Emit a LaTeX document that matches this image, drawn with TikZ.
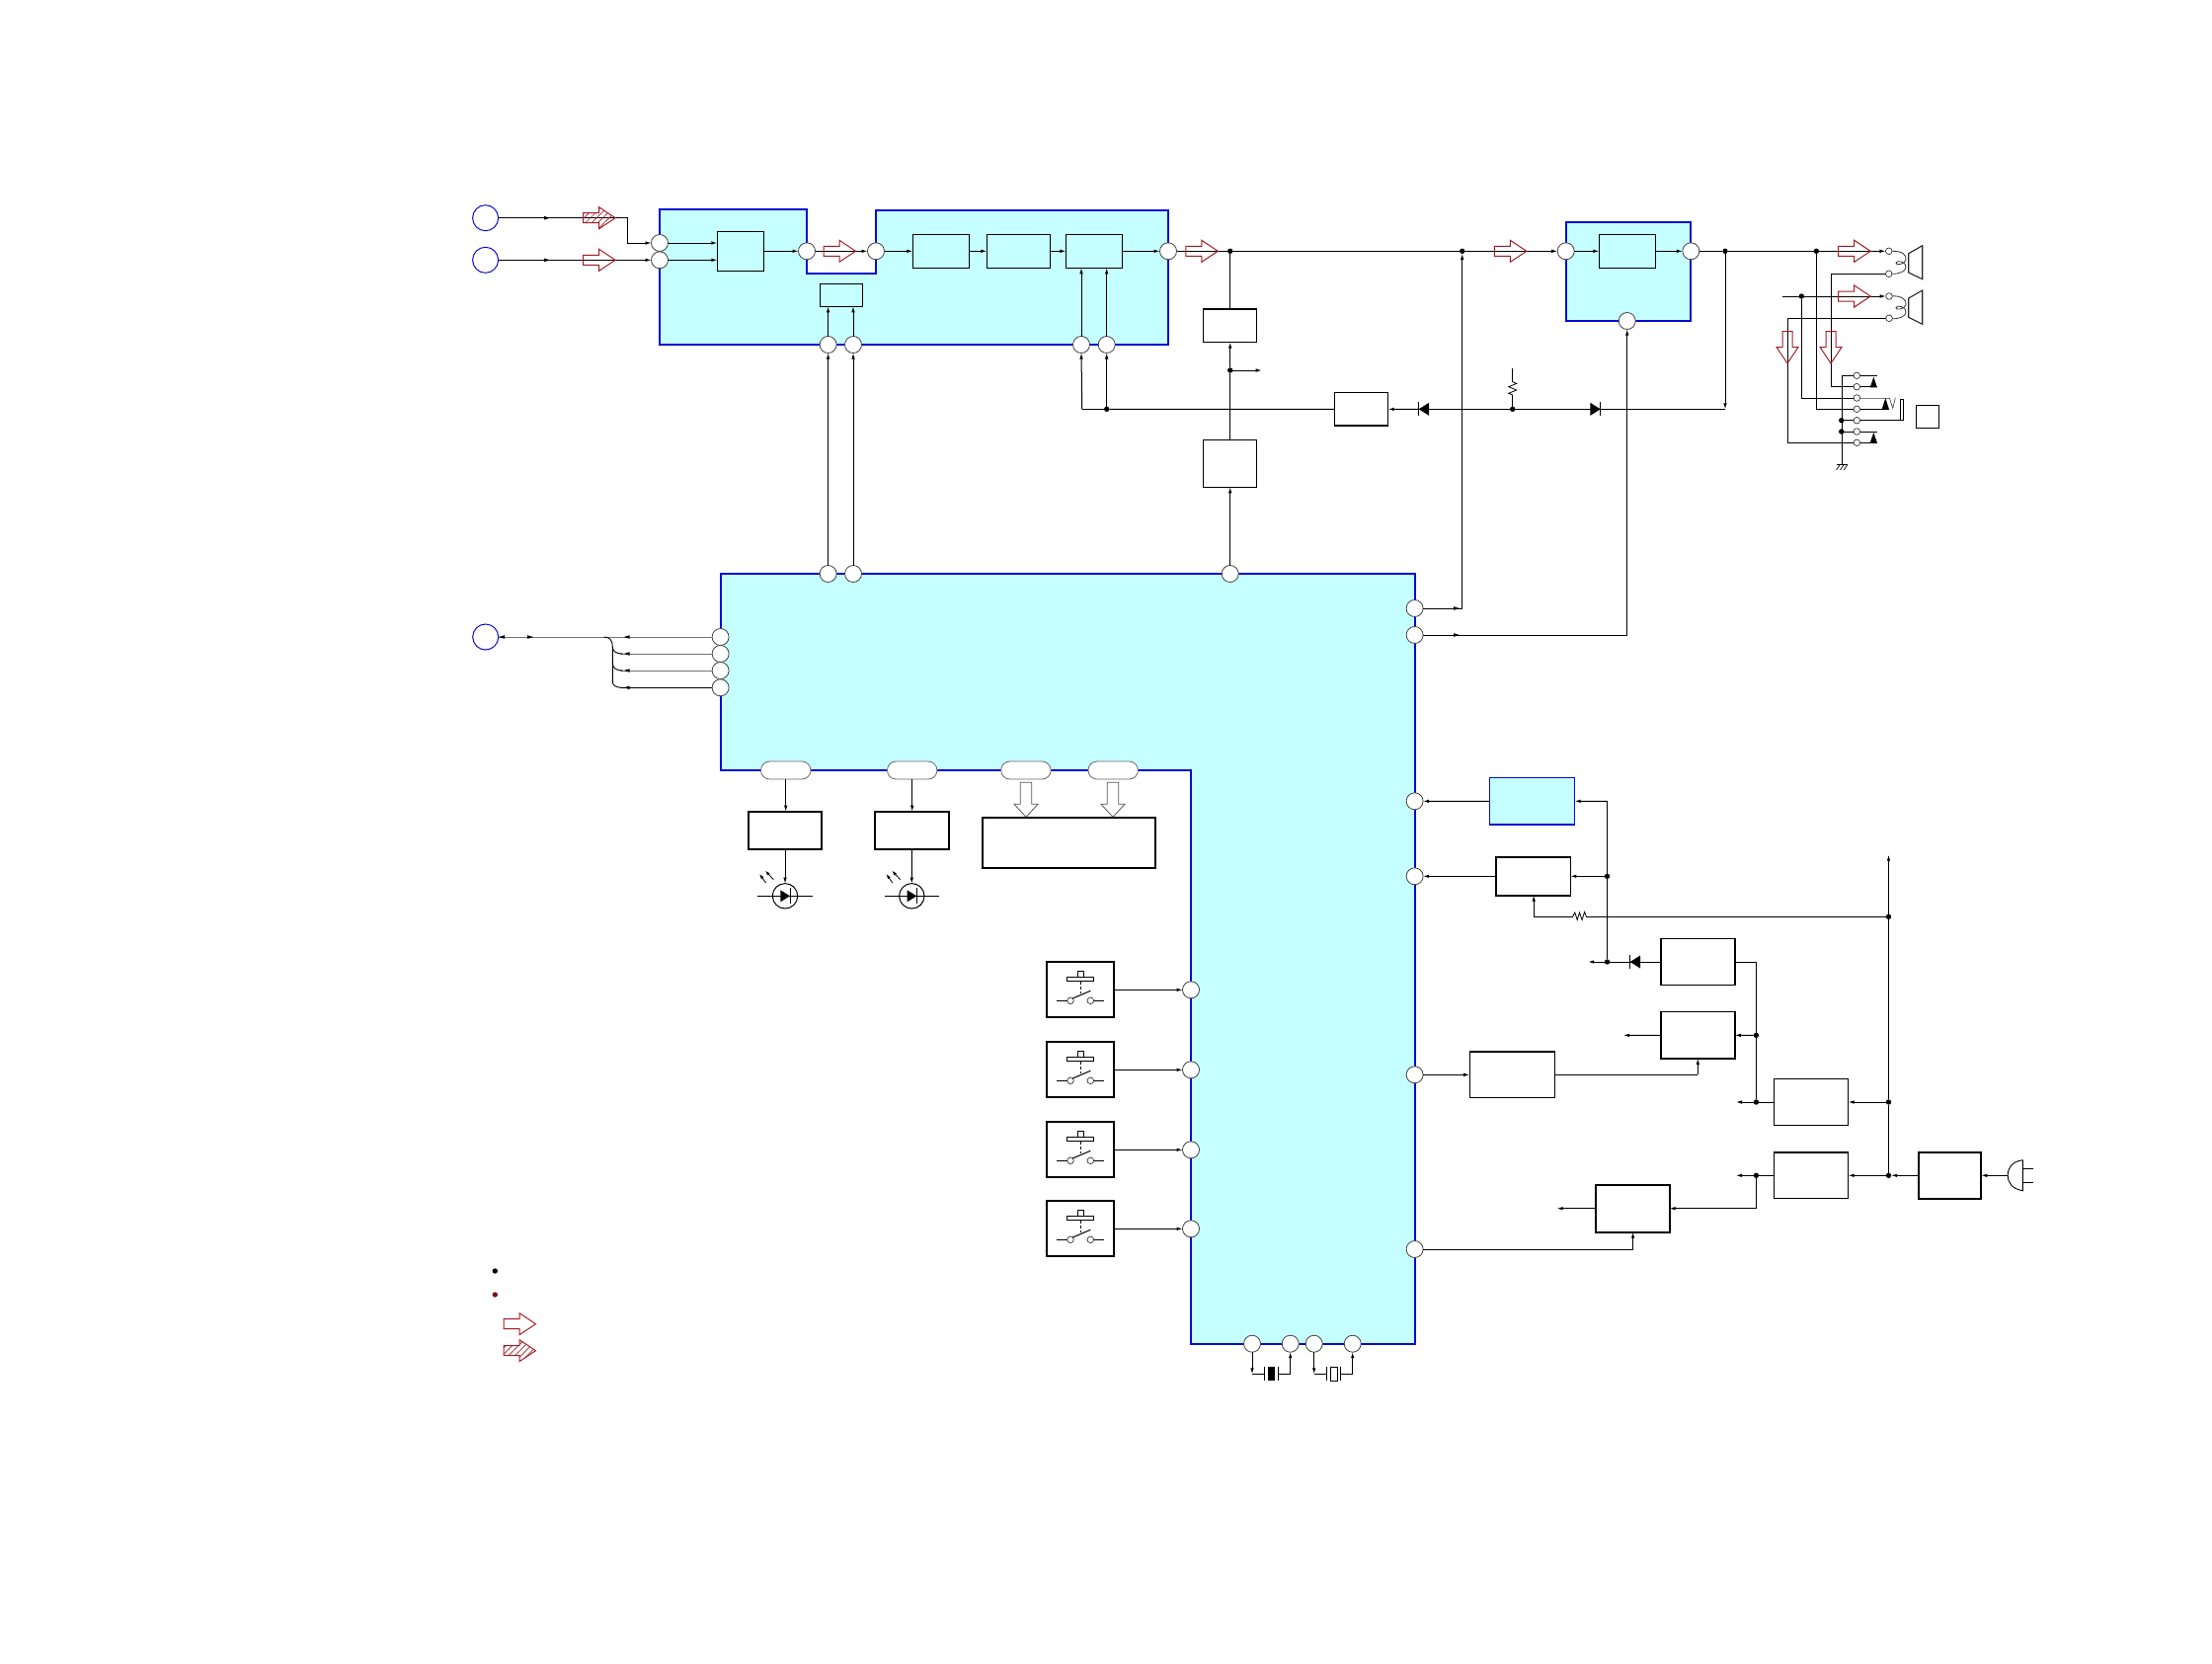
\documentclass[tikz,border=0pt]{standalone}
\usetikzlibrary{arrows.meta,patterns.meta,calc,shapes.misc}
\definecolor{bluel}{HTML}{0A0AD2}
\definecolor{cyanf}{HTML}{C6FFFF}
\definecolor{redl}{HTML}{A01E28}
\definecolor{darkr}{HTML}{7A0F1E}
\tikzset{
  wire/.style={line width=1pt,draw=black},
  gwire/.style={line width=1pt,draw=black!55},
  arr/.style={wire,-{Latex[length=6pt,width=3.6pt]}},
  box/.style={draw=black,line width=1pt,inner sep=0pt,outer sep=0pt},
  thickbox/.style={box,line width=1.8pt},
  midbox/.style={box,line width=1.4pt},
  bluebox/.style={box,draw=bluel,fill=cyanf,line width=1.5pt},
  blueline/.style={draw=bluel,fill=cyanf,line width=1.9pt,line join=miter},
  port/.style={circle,draw=black!75,fill=white,line width=.8pt,minimum size=17pt,inner sep=0pt,outer sep=0pt},
  jack/.style={circle,draw=bluel,fill=white,line width=1pt,minimum size=26pt,inner sep=0pt,outer sep=0pt},
  smallport/.style={circle,draw=black!80,fill=white,line width=.7pt,minimum size=6.6pt,inner sep=0pt,outer sep=0pt},
  blob/.style={circle,fill=black,minimum size=5.4pt,inner sep=0pt,outer sep=0pt},
  oval/.style={rounded rectangle,draw=black!60,fill=white,line width=.8pt,minimum width=50.5pt,minimum height=18pt,inner sep=0pt,outer sep=0pt},
  redarrow/.style={draw=redl,line width=1pt,line join=miter},
  hatcharrow/.style={redarrow,pattern={Lines[angle=45,distance=4.5pt,line width=.7pt]},pattern color=redl},
  hollow/.style={draw=black!65,fill=white,line width=.8pt},
  ledcirc/.style={circle,draw=black,fill=white,line width=1pt,minimum size=25.4pt,inner sep=0pt,outer sep=0pt},
}
\newcommand\bx[6]{\node[#1,minimum width={((#4)-(#2))*1pt},minimum height={((#5)-(#3))*1pt}] (#6) at ({((#2)+(#4))/2},{((#3)+(#5))/2}) {};}
\newcommand\tipat[3]{\fill[shift={(#1,#2)},rotate=#3] (0,0) -- (-6,-1.8) -- (-6,1.8) -- cycle;}
\newcommand\blockR[4][redarrow]{\draw[#1,shift={(#2,#3)},rotate=#4] (0,-5) -- (16,-5) -- (16,-11) -- (32.5,0) -- (16,11) -- (16,5) -- (0,5) -- cycle;}
\newcommand\hollowD[1]{\draw[hollow] (#1-5.7,792.3) -- (#1+5.7,792.3) -- (#1+5.7,814.3) -- (#1+12,814.3) -- (#1,827.3) -- (#1-12,814.3) -- (#1-5.7,814.3) -- cycle;}
\newcommand\diodeL[2]{\fill (#1,#2) -- (#1+10.3,#2-6.5) -- (#1+10.3,#2+6.5) -- cycle; \draw[wire] (#1,#2-7) -- (#1,#2+7);}
\newcommand\diodeR[2]{\fill (#1,#2) -- (#1-10.3,#2-6.5) -- (#1-10.3,#2+6.5) -- cycle; \draw[wire] (#1,#2-7) -- (#1,#2+7);}
\newcommand\swbox[2]{%
  \bx{thickbox}{1060}{#2-28}{1128.3}{#2+28}{#1}
  \draw[wire,line width=.9pt] (1080.3,#2-12.5) rectangle (1107.7,#2-8.8);
  \draw[wire,line width=.9pt] (1091,#2-12.5) -- (1091,#2-19) -- (1097.7,#2-19) -- (1097.7,#2-12.5);
  \draw[wire,line width=.9pt,dash pattern=on 3pt off 2.4pt] (1094.3,#2-8.8) -- (1094.3,#2+4);
  \node[smallport] (#1a) at (1084,#2+11) {};
  \node[smallport] (#1b) at (1104.3,#2+11) {};
  \draw[wire] (1070,#2+11) -- (#1a.west);
  \draw[wire] (#1b.east) -- (1117.7,#2+11);
  \draw[wire] (#1a.north east) -- (1104.3,#2+1);
}
\newcommand\led[2]{%
  \node[ledcirc] (#1) at (#2,907.3) {};
  \draw[wire] (#2-27.7,907.3) -- (#2+27.7,907.3);
  \fill (#2+5,907.3) -- (#2-4.7,901.3) -- (#2-4.7,913.3) -- cycle;
  \draw[wire] (#2+5,899.3) -- (#2+5,915.3);
  \draw[line width=.8pt,-{Latex[length=5pt,width=3.4pt]}] (#2-19.5,894) -- (#2-25.8,885);
  \draw[line width=.8pt,-{Latex[length=5pt,width=3.4pt]}] (#2-11.7,890.7) -- (#2-20,881.7);
}
\newcommand\coil[1]{\draw[line width=.8pt,draw=black!80,shift={(0,#1)}] (1916,254.3) .. controls (1926,254) and (1931,258) .. (1930,263) .. controls (1929,268) and (1919,269) .. (1920,266) .. controls (1921,263) and (1931,265) .. (1930,271) .. controls (1929,275) and (1924,277.3) .. (1916,277.3);}
\begin{document}
\begin{tikzpicture}[x=1pt,y=-1pt]
\useasboundingbox (0,0) rectangle (2240,1684);

% ---- blue regions
\draw[blueline] (668,212) -- (817,212) -- (817,277) -- (887,277) -- (887,213) -- (1183,213) -- (1183,349) -- (668,349) -- cycle;
\draw[blueline] (1585.7,224.7) rectangle (1712.3,325);
\draw[blueline] (730,581) -- (1432.6,581) -- (1432.6,1360.7) -- (1206,1360.7) -- (1206,780) -- (730,780) -- cycle;

% ---- boxes
\bx{box}{726.3}{234.3}{773.3}{274.3}{bq}
\bx{box}{830.4}{287.3}{873.3}{310.3}{bs}
\bx{box}{924.3}{237.3}{981.4}{271.3}{ba}
\bx{box}{999.3}{237.3}{1063.6}{271.3}{bb}
\bx{box}{1079.4}{237.3}{1136.5}{271.3}{bc}
\bx{midbox}{1218.7}{313}{1272.7}{346.7}{bt}
\bx{box}{1218.7}{445.7}{1272.7}{493.3}{bm}
\bx{midbox}{1351.3}{397.7}{1405.7}{431}{bd}
\bx{box}{1619.3}{237.3}{1676.7}{271.3}{be}
\bx{thickbox}{757.7}{821.7}{832.3}{860.3}{lf}
\bx{thickbox}{886}{821.7}{960.7}{860.3}{lg}
\bx{thickbox}{994.7}{828}{1170.3}{878.7}{lh}
\bx{bluebox}{1508.6}{787.7}{1594.6}{834.9}{ra}
\bx{thickbox}{1514.6}{868}{1590.4}{906.6}{rb}
\bx{midbox}{1681.8}{950.3}{1756.8}{997.7}{rc}
\bx{midbox}{1681.8}{1024.7}{1756.8}{1071.9}{rd}
\bx{midbox}{1488.2}{1065}{1574.3}{1111.6}{re}
\bx{midbox}{1796.7}{1092.7}{1871.6}{1139.3}{rf}
\bx{midbox}{1796.7}{1167}{1871.6}{1213.6}{rg}
\bx{thickbox}{1942.7}{1167}{2006.3}{1213.6}{rh}
\bx{thickbox}{1615.7}{1199.7}{1690.6}{1247.7}{ri}
\bx{box}{1940.3}{410.3}{1963.3}{433.3}{sq}

% ---- jacks and ports
\node[jack] (j1) at (491.6,220.7) {};
\node[jack] (j2) at (491.6,263.3) {};
\node[jack] (j3) at (491.7,645) {};
\node[port] (pa) at (668,246) {};
\node[port] (pb) at (668,263.3) {};
\node[port] (pc) at (817,254.3) {};
\node[port] (pd) at (887,254.3) {};
\node[port] (pe) at (1183,254.3) {};
\node[port] (pf) at (838.6,349) {};
\node[port] (pg) at (864,349) {};
\node[port] (ph) at (1095,349) {};
\node[port] (pi) at (1120.7,349) {};
\node[port] (pj) at (1585.7,254.3) {};
\node[port] (pk) at (1712.3,254.3) {};
\node[port] (pl) at (1647.7,325) {};
\node[port] (ma) at (838.6,581) {};
\node[port] (mb) at (864,581) {};
\node[port] (mc) at (1245.7,581) {};
\node[port] (md) at (1432.6,616) {};
\node[port] (me) at (1432.6,643) {};
\node[port] (la) at (729.6,645) {};
\node[port] (lb) at (729.6,662) {};
\node[port] (lc) at (729.6,679) {};
\node[port] (ld) at (729.6,696.3) {};
\node[port] (na) at (1432.6,811.3) {};
\node[port] (nb) at (1432.6,887.3) {};
\node[port] (nc) at (1432.6,1088.3) {};
\node[port] (nd) at (1432.6,1265) {};
\node[port] (sa) at (1206,1002.3) {};
\node[port] (sb) at (1206,1083.3) {};
\node[port] (sc) at (1206,1164.3) {};
\node[port] (sd) at (1206,1244.3) {};
\node[port] (xa) at (1268,1360.7) {};
\node[port] (xb) at (1306.7,1360.7) {};
\node[port] (xc) at (1330.7,1360.7) {};
\node[port] (xd) at (1369.7,1360.7) {};
\node[oval] (oa) at (795.7,780) {};
\node[oval] (ob) at (923.7,780) {};
\node[oval] (oc) at (1038.9,780) {};
\node[oval] (od) at (1127.2,780) {};

% ---- junction dots
\node[blob] (d1) at (1245.7,254.3) {};
\node[blob] (d2) at (1480.7,254.3) {};
\node[blob] (d3) at (1747,254.3) {};
\node[blob] (d4) at (1839.3,254.3) {};
\node[blob] (d5) at (1245.7,375) {};
\node[blob] (d6) at (1120.7,414.3) {};
\node[blob] (d7) at (1531.7,414.3) {};
\node[blob] (d8) at (1824.3,300) {};
\node[blob] (d9) at (1627.5,887.3) {};
\node[blob] (d10) at (1627.5,974) {};
\node[blob] (d11) at (1912.5,928.3) {};
\node[blob] (d12) at (1778.4,1048.3) {};
\node[blob] (d13) at (1778.4,1116) {};
\node[blob] (d14) at (1778.4,1190.3) {};
\node[blob] (d15) at (1912.5,1116) {};
\node[blob] (d16) at (1912.5,1190.3) {};
\node[blob] (d17) at (1864.7,425.7) {};
\node[blob] (d18) at (1864.7,437) {};
\node[blob] (leg1) at (501.3,1287) {};
\node[blob,fill=darkr] (leg2) at (501.3,1311) {};

% ---- connector coordinates
\coordinate (k1) at (635.5,220.7);
\coordinate (k2) at (1095.7,414.3);
\coordinate (k3) at (1747,414.3);
\coordinate (k4) at (1480.7,616);
\coordinate (k5) at (1647.7,643);
\coordinate (k6) at (1277.7,375);
\coordinate (k7) at (1531.7,373);
\coordinate (k8) at (1627.5,811.3);
\coordinate (k9) at (1912.5,865.7);
\coordinate (k10) at (1553.2,928.3);
\coordinate (k11) at (1608.2,974);
\coordinate (k12) at (1778.4,974);
\coordinate (k13) at (1644,1048.3);
\coordinate (k14) at (1758,1116);
\coordinate (k15) at (1758,1190.3);
\coordinate (k16) at (1576.6,1223.7);
\coordinate (k17) at (1653.6,1265);
\coordinate (k18) at (1719.3,1088.3);
\coordinate (k19) at (1805,300);

% ---- top signal chain
\draw[wire] (j1.east) -- (k1);
\draw[arr] (k1) |- (pa.west);
\draw[arr] (j2.east) -- (pb.west);
\tipat{557}{220.7}{0}
\tipat{557}{263.3}{0}
\draw[arr] (pa.east) -- (pa.east -| bq.west);
\draw[arr] (pb.east) -- (pb.east -| bq.west);
\draw[arr] (bq.east) -- (pc.west);
\draw[arr] (pc.east) -- (pd.west);
\draw[arr] (pd.east) -- (ba.west);
\draw[arr] (ba.east) -- (bb.west);
\draw[arr] (bb.east) -- (bc.west);
\draw[arr] (bc.east) -- (pe.west);
\draw[wire] (pe.east) -- (d1);
\draw[wire] (d1) -- (d2);
\draw[arr] (d2) -- (pj.west);
\draw[arr] (pj.east) -- (be.west);
\draw[arr] (be.east) -- (pk.west);
\draw[wire] (pk.east) -- (d3);
\draw[wire] (d3) -- (d4);
\draw[wire] (d1) -- (bt.north);
\draw[arr] (d5) -- (bt.south);
\draw[wire] (bm.north) -- (d5);
\draw[arr] (mc.north) -- (bm.south);
\draw[arr] (d5) -- (k6);
\draw[arr] (ma.north) -- (pf.south);
\draw[arr] (mb.north) -- (pg.south);
\draw[arr] (pf.north) -- (pf.north |- bs.south);
\draw[arr] (pg.north) -- (pg.north |- bs.south);
\draw[arr] (ph.north) -- (ph.north |- bc.south);
\draw[arr] (pi.north) -- (pi.north |- bc.south);
% ---- feedback row
\draw[arr] (k2) -- (ph.south);
\draw[arr] (d6) -- (pi.south);
\draw[wire] (k2) -- (d6);
\draw[wire] (d6) -- (bd.west);
\draw[arr] (1436.7,414.3) -- (bd.east);
\draw[wire] (1446,414.3) -- (d7);
\draw[wire] (d7) -- (1612,414.3);
\draw[wire] (1620.7,414.3) -- (k3);
\draw[arr] (d3) -- (k3);
\diodeL{1436.7}{414.3}
\diodeR{1620.7}{414.3}
\draw[wire] (d7) -- (1531.7,400);
\draw[wire] (1531.7,386.7) -- (k7);
\draw[line width=.8pt] (1531.7,386.7) -- (1535.7,388.4) -- (1527.7,391.7) -- (1535.7,395) -- (1527.7,398.3) -- (1531.7,400);
% ---- control lines from the main block
\draw[wire] (md.east) -- (k4);
\draw[arr] (k4) -- (d2);
\draw[wire] (me.east) -- (k5);
\draw[arr] (k5) -- (pl.south);
\tipat{1478}{616}{0}
\tipat{1478}{643}{0}
% ---- left bus
\draw[gwire] (j3.east) -- (la.west);
\tipat{505}{645}{180}
\tipat{540}{645}{0}
\tipat{631.7}{645}{180}
\draw[gwire] (lb.west) -- (628,662);
\draw[gwire] (lc.west) -- (628,679);
\draw[wire,line width=.9pt] (ld.west) -- (628,696.3);
\draw[wire,line width=.9pt] (611.7,645) .. controls (618,645) and (620.3,649) .. (620.3,655) .. controls (620.3,659) and (623,662) .. (631,662);
\draw[wire,line width=.9pt] (620.3,655) -- (620.3,690) .. controls (620.3,694) and (623,696.3) .. (631,696.3);
\draw[wire,line width=.9pt] (620.3,671) .. controls (620.3,676) and (623,679) .. (631,679);
\tipat{631.7}{662}{180}
\tipat{631.7}{679}{180}
\tipat{631.7}{696.3}{180}
% ---- lamp drivers and display
\draw[arr] (oa.south) -- (oa.south |- lf.north);
\draw[arr] (ob.south) -- (ob.south |- lg.north);
\led{led1}{795}
\led{led2}{923.3}
\draw[arr] (lf.south) -- (led1.north);
\draw[arr] (lg.south) -- (led2.north);
\hollowD{1039}
\hollowD{1127}
% ---- switches
\swbox{swa}{1002.3}
\swbox{swb}{1083.3}
\swbox{swc}{1164.3}
\swbox{swd}{1244.3}
\draw[arr] (swa.east) -- (sa.west);
\draw[arr] (swb.east) -- (sb.west);
\draw[arr] (swc.east) -- (sc.west);
\draw[arr] (swd.east) -- (sd.west);
% ---- crystals
\draw[arr] (xa.south) -- (1268,1391.3);
\draw[wire] (1268,1391.3) -- (1280.7,1391.3);
\draw[wire] (1280.7,1384) -- (1280.7,1398.3);
\fill (1284,1384) rectangle (1291,1398.3);
\draw[wire] (1294.7,1384) -- (1294.7,1398.3);
\draw[wire] (1294.7,1391.3) -- (1306.7,1391.3);
\draw[arr] (1306.7,1391.3) -- (xb.south);
\draw[arr] (xc.south) -- (1330.7,1391.3);
\draw[wire] (1330.7,1391.3) -- (1343.7,1391.3);
\draw[wire] (1343.7,1384) -- (1343.7,1398.3);
\draw[wire] (1347.3,1384) rectangle (1354,1398.3);
\draw[wire] (1357.7,1384) -- (1357.7,1398.3);
\draw[wire] (1357.7,1391.3) -- (1369.7,1391.3);
\draw[arr] (1369.7,1391.3) -- (xd.south);
% ---- power section
\draw[arr] (ra.west) -- (na.east);
\draw[arr] (rb.west) -- (nb.east);
\draw[arr] (k8) -- (ra.east);
\draw[wire] (k8) -- (d9);
\draw[wire] (d9) -- (d10);
\draw[arr] (d9) -- (rb.east);
\draw[arr] (d10) -- (k11);
\draw[wire] (d10) -- (1652,974);
\draw[wire] (1660,974) -- (rc.west);
\diodeL{1650.7}{974}
\draw[arr] (d11) -- (k9);
\draw[wire] (d11) -- (d15);
\draw[wire] (d15) -- (d16);
\draw[wire] (d11) -- (1606.4,928.3);
\draw[line width=.8pt] (1606.4,928.3) -- (1604.6,923.5) -- (1602,931.5) -- (1599.5,924) -- (1597.2,931.5) -- (1594.8,924) -- (1592.5,928.3);
\draw[wire] (1592.5,928.3) -- (k10);
\draw[arr] (k10) -- (k10 |- rb.south);
\draw[wire] (rc.east) -| (k12);
\draw[wire] (k12) -- (d12);
\draw[wire] (d12) -- (d13);
\draw[arr] (d12) -- (rd.east);
\draw[arr] (rd.west) -- (k13);
\draw[arr] (nc.east) -- (re.west);
\draw[wire] (re.east) -- (k18);
\draw[arr] (k18) -- (k18 |- rd.south);
\draw[arr] (d13) -- (k14);
\draw[wire] (d13) -- (rf.west);
\draw[arr] (d15) -- (rf.east);
\draw[arr] (d14) -- (k15);
\draw[wire] (d14) -- (rg.west);
\draw[arr] (d16) -- (rg.east);
\draw[arr] (rh.west) -- (d16);
\draw[arr] (d14) |- (ri.east);
\draw[arr] (ri.west) -- (k16);
\draw[wire] (nd.east) -- (k17);
\draw[arr] (k17) -- (k17 |- ri.south);
\draw[arr] (2033.2,1190.3) -- (rh.east);
\draw[wire,line width=.9pt] (2048.4,1174.7) -- (2048.4,1205.7) .. controls (2038,1204) and (2033.2,1198) .. (2033.2,1190.2) .. controls (2033.2,1182) and (2038,1176) .. (2048.4,1174.7);
\draw[wire] (2048.4,1183.3) -- (2059.3,1183.3);
\draw[wire] (2048.4,1197) -- (2059.3,1197);
% ---- output jack and speakers
\node[smallport] (h1) at (1912.7,254.3) {};
\node[smallport] (h2) at (1912.7,277.3) {};
\node[smallport] (h3) at (1913,300) {};
\node[smallport] (h4) at (1913,322.3) {};
\node[smallport] (t1) at (1880.3,380.3) {};
\node[smallport] (t2) at (1880.3,391.7) {};
\node[smallport] (t3) at (1880.3,403) {};
\node[smallport] (t4) at (1880.3,414.3) {};
\node[smallport] (t5) at (1880.3,425.7) {};
\node[smallport] (t6) at (1880.3,437) {};
\node[smallport] (t7) at (1880.3,448.3) {};
\coordinate (g1) at (1865.3,470.7);
\coordinate (g2) at (1865.3,380.3);
\draw[arr] (d4) -- (h1.west);
\draw[arr] (k19) -- (h3.west);
\draw[wire] (h2.west) -- (1854.7,277.3) |- (t2.west);
\draw[wire] (h4.west) -- (1810.3,322.3) |- (t7.west);
\draw[wire] (d8) |- (t3.west);
\draw[wire] (d4) |- (t4.west);
\draw[wire] (t1.west) -- (g2) -- (g1);
\draw[wire] (d17) -- (t5.west);
\draw[wire] (d18) -- (t6.west);
\draw[wire] (t1.east) -- (1900.7,380.3);
\draw[wire] (t6.east) -- (1900.7,437);
\draw[wire] (t2.east) -- (1900.7,391.7);
\draw[wire,draw=black!50] (t3.east) -- (1912.7,403);
\draw[wire] (t4.east) -- (1912.7,414.3);
\draw[wire] (t7.east) -- (1900.7,448.3);
\fill (1897.3,381.7) -- (1900.9,392.3) -- (1893.7,392.3) -- cycle;
\fill (1897.3,438) -- (1900.9,448.3) -- (1893.7,448.3) -- cycle;
\fill (1909.3,403) -- (1912.9,414.3) -- (1905.7,414.3) -- cycle;
\draw[line width=.7pt,draw=black!70] (1913.3,402.7) -- (1916.7,413.3) -- (1919.3,402.7);
\draw[wire] (t5.east) -- (1927.3,425.7) -- (1927.3,404.3) -- (1924.7,404.3) -- (1924.7,425.7);
\draw[wire] (1860,470.7) -- (1870.7,470.7);
\draw[line width=.7pt] (1863,470.7) -- (1859.5,476) (1867,470.7) -- (1863.5,476) (1870.7,470.7) -- (1867.2,476);
\coil{0}
\coil{45.5}
\draw[line width=1.1pt,draw=black!85] (1932.7,256.7) -- (1946.7,248.7) -- (1946.7,282.7) -- (1932.7,276) -- cycle;
\draw[line width=1.1pt,draw=black!85] (1932.7,302) -- (1946.7,294) -- (1946.7,328.3) -- (1932.7,321.3) -- cycle;
% ---- block arrows
\blockR[hatcharrow]{590.6}{220.7}{0}
\blockR{590.6}{263.3}{0}
\blockR{834}{254.3}{0}
\blockR{1200.8}{254.3}{0}
\blockR{1513.3}{254.3}{0}
\blockR{1861.7}{254.3}{0}
\blockR{1861.7}{300}{0}
\blockR{1810}{335.5}{-90}
\blockR{1854}{335.5}{-90}
\blockR{510}{1340.7}{0}
\blockR[hatcharrow]{510}{1367.7}{0}
\end{tikzpicture}
\end{document}
